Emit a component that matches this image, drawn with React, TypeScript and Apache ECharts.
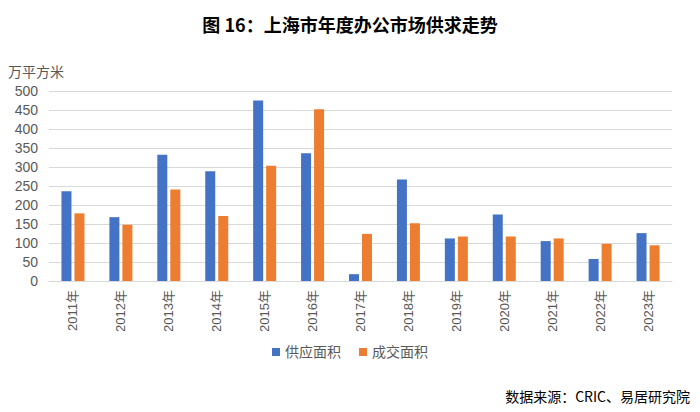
import React, { useEffect, useRef } from "react";
import * as echarts from "echarts";

const years = ["2011年", "2012年", "2013年", "2014年", "2015年", "2016年", "2017年", "2018年", "2019年", "2020年", "2021年", "2022年", "2023年"];
const supply = [236, 168, 332, 289, 475, 336, 18, 267, 112, 175, 105, 58, 126];
const deal = [178, 148, 241, 171, 303, 452, 124, 152, 117, 117, 112, 98, 94];
const seriesNames = ["供应面积", "成交面积"];
const titleText = "图 16：上海市年度办公市场供求走势";
const unitText = "万平方米";
const sourceText = "数据来源：CRIC、易居研究院";

const FONT = "'Liberation Sans', 'Noto Sans CJK SC', sans-serif";

export default function App() {
  const ref = useRef<HTMLDivElement>(null);
  useEffect(() => {
    if (!ref.current) return;
    const chart = echarts.init(ref.current, null, { renderer: "svg" });
    chart.setOption({
      animation: false,
      backgroundColor: "#ffffff",
      title: {
        text: titleText,
        left: "center",
        top: 10,
        textStyle: { fontFamily: "'Noto Sans CJK SC', serif", fontSize: 18, fontWeight: "bold", color: "#000000" },
      },
      grid: { left: 49, right: 28, top: 91, bottom: 131, containLabel: false },
      legend: {
        data: seriesNames,
        bottom: 48,
        left: "center",
        itemWidth: 8,
        itemHeight: 8,
        itemGap: 18,
        icon: "rect",
        textStyle: { fontFamily: FONT, fontSize: 14, color: "#595959" },
      },
      xAxis: {
        type: "category",
        data: years,
        axisLine: { show: true, lineStyle: { color: "#d9d9d9", width: 1 } },
        axisTick: { show: false },
        axisLabel: { rotate: 90, fontFamily: FONT, fontSize: 13, color: "#595959", margin: 9, interval: 0 },
      },
      yAxis: {
        type: "value",
        min: 0,
        max: 500,
        interval: 50,
        axisLine: { show: false },
        axisTick: { show: false },
        splitLine: { lineStyle: { color: "#d9d9d9", width: 1 } },
        axisLabel: { fontFamily: FONT, fontSize: 14, color: "#595959", margin: 11 },
      },
      graphic: [
        {
          type: "text",
          left: 8,
          top: 65,
          style: { text: unitText, font: `14px ${FONT}`, fill: "#595959" },
        },
        {
          type: "text",
          right: 10,
          top: 389,
          style: { text: sourceText, font: `14px 'Noto Sans CJK SC', serif`, fill: "#000000" },
        },
      ],
      series: [
        {
          name: seriesNames[0],
          type: "bar",
          data: supply,
          barWidth: 10,
          barGap: "30%",
          itemStyle: { color: "#4472C4" },
        },
        {
          name: seriesNames[1],
          type: "bar",
          data: deal,
          barWidth: 10,
          barGap: "30%",
          itemStyle: { color: "#ED7D31" },
        },
      ],
    });
    return () => chart.dispose();
  }, []);
  return <div ref={ref} style={{ position: "fixed", left: 0, top: 0, width: 700, height: 412 }} />;
}
